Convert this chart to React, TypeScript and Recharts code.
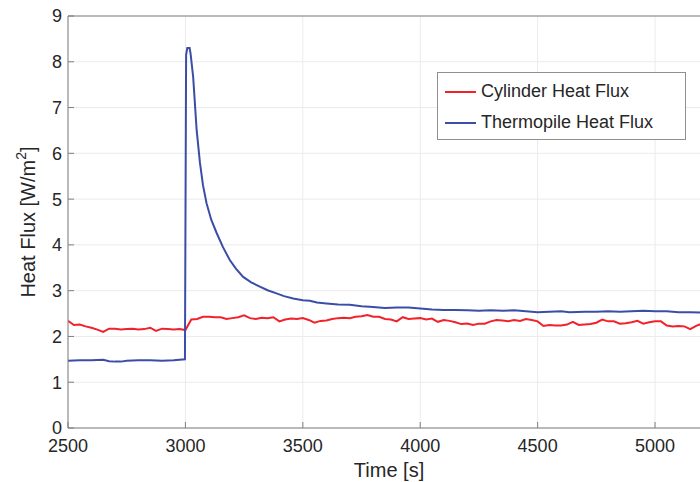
import { LineChart, Line, XAxis, YAxis, CartesianGrid, ReferenceLine } from 'recharts';

const xTicks = [2500, 3000, 3500, 4000, 4500, 5000];
const yTicks = [0, 1, 2, 3, 4, 5, 6, 7, 8, 9];

const cylinderTime = [
  2500, 2525, 2550, 2575, 2600, 2625, 2650, 2675, 2700, 2725, 2750, 2775, 2800, 2825, 2850, 2875, 2900, 2925,
  2950, 2975, 3000, 3025, 3050, 3075, 3100, 3125, 3150, 3175, 3200, 3225, 3250, 3275, 3300, 3325, 3350, 3375,
  3400, 3425, 3450, 3475, 3500, 3525, 3550, 3575, 3600, 3625, 3650, 3675, 3700, 3725, 3750, 3775, 3800, 3825,
  3850, 3875, 3900, 3925, 3950, 3975, 4000, 4025, 4050, 4075, 4100, 4125, 4150, 4175, 4200, 4225, 4250, 4275,
  4300, 4325, 4350, 4375, 4400, 4425, 4450, 4475, 4500, 4525, 4550, 4575, 4600, 4625, 4650, 4675, 4700, 4725,
  4750, 4775, 4800, 4825, 4850, 4875, 4900, 4925, 4950, 4975, 5000, 5025, 5050, 5075, 5100, 5125, 5150, 5175,
  5200,
];
const cylinderFlux = [
  2.34, 2.25, 2.26, 2.22, 2.19, 2.15, 2.10, 2.17, 2.17, 2.15, 2.16, 2.17, 2.15, 2.16, 2.19, 2.12, 2.17, 2.16,
  2.15, 2.16, 2.14, 2.37, 2.38, 2.43, 2.43, 2.42, 2.42, 2.38, 2.40, 2.42, 2.46, 2.40, 2.38, 2.41, 2.40, 2.42,
  2.33, 2.37, 2.39, 2.38, 2.40, 2.36, 2.30, 2.34, 2.35, 2.38, 2.40, 2.41, 2.40, 2.43, 2.44, 2.47, 2.43, 2.43,
  2.38, 2.37, 2.33, 2.42, 2.38, 2.39, 2.40, 2.37, 2.39, 2.32, 2.36, 2.34, 2.31, 2.27, 2.28, 2.25, 2.28, 2.28,
  2.33, 2.36, 2.35, 2.33, 2.36, 2.34, 2.38, 2.36, 2.33, 2.23, 2.25, 2.24, 2.24, 2.26, 2.32, 2.25, 2.26, 2.27,
  2.30, 2.37, 2.33, 2.33, 2.28, 2.29, 2.31, 2.34, 2.28, 2.31, 2.33, 2.33, 2.24, 2.22, 2.23, 2.22, 2.16, 2.23,
  2.28,
];

const thermopileTime = [
  2500, 2550, 2600, 2650, 2675, 2700, 2725, 2750, 2800, 2850, 2900, 2950, 2998, 3003, 3008, 3018, 3022, 3033,
  3048, 3062, 3075, 3090, 3110, 3133, 3160, 3189, 3215, 3246, 3280, 3317, 3350, 3388, 3420, 3459, 3500, 3530,
  3560, 3601, 3650, 3700, 3750, 3785, 3850, 3900, 3950, 4000, 4050, 4100, 4150, 4200, 4250, 4300, 4352, 4400,
  4450, 4500, 4550, 4600, 4636, 4700, 4750, 4800, 4850, 4900, 4950, 5000, 5050, 5100, 5150, 5200,
];
const thermopileFlux = [
  1.47, 1.48, 1.48, 1.49, 1.46, 1.45, 1.45, 1.47, 1.48, 1.48, 1.47, 1.48, 1.50, 8.15, 8.30, 8.30, 8.18, 7.67,
  6.50, 5.79, 5.30, 4.91, 4.55, 4.26, 3.95, 3.67, 3.48, 3.30, 3.18, 3.09, 3.01, 2.94, 2.88, 2.83, 2.79, 2.78,
  2.74, 2.72, 2.70, 2.69, 2.66, 2.65, 2.62, 2.63, 2.63, 2.61, 2.59, 2.58, 2.58, 2.57, 2.56, 2.57, 2.56, 2.57,
  2.55, 2.53, 2.54, 2.55, 2.53, 2.54, 2.54, 2.55, 2.54, 2.55, 2.56, 2.55, 2.55, 2.53, 2.53, 2.52,
];

const RED = '#f2222b';
const BLUE = '#3a4ea7';
const AXIS = '#7f7f7f';
const TEXT = '#262626';
const FONT = '"Liberation Sans", Arial, sans-serif';

const cylinderData = cylinderTime.map((t, i) => ({ t, v: cylinderFlux[i] }));
const thermopileData = thermopileTime.map((t, i) => ({ t, v: thermopileFlux[i] }));

const series = [
  { name: 'Cylinder Heat Flux', color: RED },
  { name: 'Thermopile Heat Flux', color: BLUE },
];

function XTick(props: any) {
  const { x, y, payload } = props;
  const axisY = y - 11;
  return (
    <g>
      <line x1={x} x2={x} y1={axisY} y2={axisY - 6} stroke={AXIS} />
      <text x={x} y={y} dy="0.72em" textAnchor="middle" fill={TEXT} fontSize={18} fontFamily={FONT}>
        {payload.value}
      </text>
    </g>
  );
}

function YTick(props: any) {
  const { x, y, payload } = props;
  const axisX = x + 6;
  return (
    <g>
      <line x1={axisX} x2={axisX + 6} y1={y} y2={y} stroke={AXIS} />
      <text x={x} y={y} dy="0.36em" textAnchor="end" fill={TEXT} fontSize={18} fontFamily={FONT}>
        {payload.value}
      </text>
    </g>
  );
}

function LegendBox() {
  return (
    <div
      style={{
        position: 'absolute',
        left: 437,
        top: 72,
        border: '1px solid #8f8f8f',
        background: '#fff',
        width: 247,
        height: 66,
        boxSizing: 'content-box',
        fontFamily: FONT,
        fontSize: 18,
        color: TEXT,
      }}
    >
      {series.map((s, i) => (
        <div key={s.name} style={{ display: 'flex', alignItems: 'center', height: 31, marginTop: i === 0 ? 3 : 0 }}>
          <div style={{ width: 31, height: 2, background: s.color, marginLeft: 7, marginRight: 5 }} />
          <span>{s.name}</span>
        </div>
      ))}
    </div>
  );
}

export default function App() {
  return (
    <div style={{ position: 'absolute', left: 0, top: 0, width: 700, height: 482, overflow: 'hidden', background: '#fff' }}>
      <LineChart width={704} height={482} margin={{ top: 16, right: 2, bottom: 0, left: 0 }}>
        <CartesianGrid stroke="#ebebeb" strokeWidth={1} />
        <XAxis
          type="number"
          dataKey="t"
          domain={[2500, 5200]}
          ticks={xTicks}
          allowDataOverflow
          stroke={AXIS}
          tickLine={false}
          tickSize={0}
          tickMargin={11}
          height={54}
          tick={<XTick />}
          label={{
            content: () => (
              <text x={389} y={477} textAnchor="middle" fill={TEXT} fontSize={20} fontFamily={FONT}>
                Time [s]
              </text>
            ),
          }}
        />
        <YAxis
          type="number"
          domain={[0, 9]}
          ticks={yTicks}
          allowDataOverflow
          stroke={AXIS}
          tickLine={false}
          tickSize={0}
          tickMargin={6}
          width={68}
          tick={<YTick />}
          label={{
            content: () => (
              <text x={35} y={222} transform="rotate(-90, 35, 222)" textAnchor="middle" fill={TEXT} fontSize={20} fontFamily={FONT}>
                Heat Flux [W/m<tspan dy={-9} fontSize={14}>2</tspan><tspan dy={9}>]</tspan>
              </text>
            ),
          }}
        />
        <ReferenceLine y={9} stroke={AXIS} />
        <Line data={cylinderData} dataKey="v" name={series[0].name} type="linear" stroke={RED} strokeWidth={2} dot={false} isAnimationActive={false} />
        <Line data={thermopileData} dataKey="v" name={series[1].name} type="linear" stroke={BLUE} strokeWidth={2} dot={false} isAnimationActive={false} />
      </LineChart>
      <LegendBox />
    </div>
  );
}
